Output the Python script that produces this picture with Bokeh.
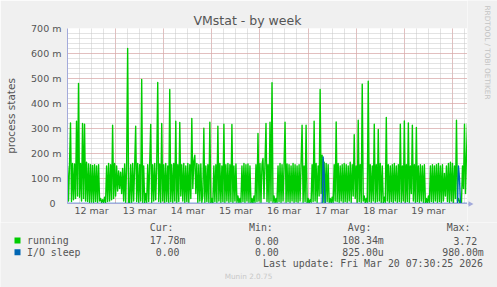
from bokeh.plotting import figure
from bokeh.layouts import column, row
from bokeh.models import FixedTicker, Range1d, ColumnDataSource
from bokeh.core.properties import value
from bokeh.embed import file_html
from bokeh.resources import INLINE
import math

# ---------------- data ----------------
day_labels = ["12 mar", "13 mar", "14 mar", "15 mar", "16 mar", "17 mar", "18 mar", "19 mar"]
y_tick_labels = ["0\u2007", "100 m", "200 m", "300 m", "400 m", "500 m", "600 m", "700 m"]

# running processes (milli), one sample per 30 min, starting 12 mar 00:00
running_m = [
    150, 10, 155, 322, 8, 160, 15, 158, 20, 329, 30, 480, 25, 160, 10, 320, 20, 317, 10, 165,
    8, 158, 5, 155, 6, 152, 5, 155, 8, 150, 5, 155, 10, 20, 5, 15, 3, 25, 5, 150,
    8, 160, 10, 155, 15, 313, 20, 160, 30, 150, 50, 130, 60, 125, 40, 140, 10, 158, 5, 160,
    620, 5, 3, 155, 5, 160, 10, 150, 309, 8, 160, 5, 155, 10, 496, 5, 150, 3, 40, 5,
    155, 8, 160, 316, 5, 155, 10, 160, 15, 150, 484, 8, 158, 5, 320, 10, 155, 5, 160, 8,
    150, 5, 456, 8, 155, 5, 160, 10, 329, 5, 155, 8, 324, 30, 155, 10, 160, 5, 150, 8,
    160, 5, 155, 20, 340, 60, 170, 193, 40, 160, 5, 155, 10, 158, 5, 30, 301, 5, 150, 8,
    155, 5, 325, 3, 20, 2, 150, 8, 155, 5, 309, 10, 160, 5, 150, 8, 317, 5, 155, 10,
    160, 5, 155, 8, 316, 5, 150, 10, 158, 5, 30, 3, 20, 5, 150, 8, 160, 5, 155, 10,
    158, 5, 150, 3, 20, 2, 30, 5, 155, 8, 280, 10, 160, 5, 155, 180, 20, 160, 320, 8,
    155, 5, 325, 10, 483, 5, 30, 3, 20, 5, 150, 8, 160, 5, 155, 10, 150, 325, 5, 158,
    8, 155, 5, 150, 10, 160, 5, 155, 8, 150, 5, 155, 10, 160, 313, 5, 150, 8, 313, 3,
    20, 2, 15, 5, 155, 8, 329, 10, 160, 5, 150, 30, 456, 40, 193, 5, 165, 3, 160, 8,
    155, 5, 20, 3, 25, 5, 155, 10, 326, 8, 160, 5, 150, 10, 155, 5, 160, 8, 155, 5,
    150, 10, 165, 5, 155, 30, 275, 20, 150, 5, 333, 8, 155, 5, 477, 10, 30, 3, 20, 5,
    489, 8, 155, 5, 150, 10, 317, 5, 155, 8, 296, 10, 160, 5, 150, 3, 25, 5, 344, 10,
    155, 5, 150, 8, 155, 5, 160, 10, 150, 5, 155, 8, 317, 5, 150, 10, 330, 5, 155, 8,
    322, 5, 150, 40, 313, 10, 155, 5, 304, 8, 150, 5, 155, 10, 150, 5, 155, 3, 20, 2,
    30, 5, 150, 8, 155, 5, 150, 10, 155, 5, 160, 8, 150, 5, 155, 10, 120, 30, 150, 8,
    160, 5, 165, 10, 160, 5, 150, 20, 333, 10, 20, 3, 15, 5, 150, 60, 317, 40, 200, 320,
]
# I/O sleep (milli): zero except these samples
io_spike_index = [255, 256, 390, 391]
io_spike_m = [186, 120, 150, 100]

series_names = ["running", "I/O sleep"]
series_colors = ["#00CC00", "#0066B3"]
stat_headers = ["Cur:", "Min:", "Avg:", "Max:"]
running_stats = ["17.78m", "0.00", "108.34m", "3.72"]
io_stats = ["0.00", "0.00", "825.00u", "980.00m"]
last_update = "Last update: Fri Mar 20 07:30:25 2026"

n = len(running_m)
hours = [i * 0.5 for i in range(n)]
io_sleep_m = [0.0] * n
for k, v in zip(io_spike_index, io_spike_m):
    io_sleep_m[k] = v

src = ColumnDataSource(dict(t=hours, run=running_m, io=io_sleep_m))

# ---------------- main chart ----------------
TXT = "#555555"
AXC = "#a3aadb"
BG = "#F0F0F0"
TOP_H = 222
MAIN_W = 467

p = figure(width=MAIN_W, height=TOP_H, output_backend="svg", toolbar_location=None,
           x_range=Range1d(0, hours[-1]), y_range=Range1d(0, 700),
           min_border_left=67, min_border_right=0, min_border_top=28, min_border_bottom=19,
           background_fill_color="white", border_fill_color=BG, outline_line_color=None)
p.frame_align = False

p.title.text = "VMstat - by week"
p.title.align = "left"
p.title.offset = 126
p.title.standoff = 2
p.title.text_font = "DejaVu Sans"
p.title.text_font_size = "12.5px"
p.title.text_font_style = "normal"
p.title.text_color = TXT

xa = p.xaxis[0]
xa.ticker = FixedTicker(ticks=[12 + 24 * k for k in range(len(day_labels))])
xa.major_label_overrides = {12 + 24 * k: lab for k, lab in enumerate(day_labels)}
ya = p.yaxis[0]
ya.ticker = FixedTicker(ticks=[100 * k for k in range(len(y_tick_labels))])
ya.major_label_overrides = {100 * k: lab for k, lab in enumerate(y_tick_labels)}
for ax in (xa, ya):
    ax.major_tick_line_color = None
    ax.minor_tick_line_color = None
    ax.major_tick_out = 0
    ax.major_tick_in = 0
    ax.minor_tick_out = 0
    ax.minor_tick_in = 0
    ax.axis_line_color = AXC
    ax.major_label_text_font = "DejaVu Sans"
    ax.major_label_text_font_size = "9.5px"
    ax.major_label_text_color = TXT
xa.major_label_standoff = 1
ya.major_label_standoff = 6
ya.axis_label = "process states"
ya.axis_label_text_font = "DejaVu Sans"
ya.axis_label_text_font_size = "10.5px"
ya.axis_label_text_font_style = "normal"
ya.axis_label_text_color = TXT
ya.axis_label_standoff = 11

xg = p.xgrid[0]
xg.ticker = FixedTicker(ticks=[24 * k for k in range(1, 9)], minor_ticks=[6 * k for k in range(0, 34)])
yg = p.ygrid[0]
yg.ticker = FixedTicker(ticks=[100 * k for k in range(8)], minor_ticks=[20 * k for k in range(36)])
for g in (xg, yg):
    g.grid_line_color = "#e09a9a"
    g.grid_line_dash = "1 1"
    g.minor_grid_line_color = "#c6c6c6"
    g.minor_grid_line_dash = "1 1"

p.line("t", "run", source=src, line_color=series_colors[0], line_width=1.4, line_join="round")
p.line("t", "io", source=src, line_color=series_colors[1], line_width=1.4, line_join="round")

# ---------------- watermark strip (right) ----------------
wm = figure(width=497 - MAIN_W, height=TOP_H, output_backend="svg", toolbar_location=None,
            x_range=Range1d(MAIN_W, 497), y_range=Range1d(TOP_H, 0),
            x_axis_location=None, y_axis_location=None, min_border=0,
            background_fill_color=BG, border_fill_color=BG, outline_line_color=None)
wm.frame_align = False
wm.grid.visible = False
# x-axis arrow head continuing the axis line
wm.patch(x=[467, 468, 468, 473, 468, 468, 467], y=[203, 203, 200.7, 203.5, 206.3, 204, 204],
         fill_color=AXC, line_color=None)
wm.text(x=[487.3], y=[5], text=["RRDTOOL / TOBI OETIKER"], angle=-math.pi / 2,
        text_align="left", text_baseline="middle", text_font=value("DejaVu Sans"),
        text_font_size="7.3px", text_color="#c4c4c4")

# ---------------- legend strip (bottom) ----------------
lg = figure(width=497, height=287 - TOP_H, output_backend="svg", toolbar_location=None,
            x_range=Range1d(0, 497), y_range=Range1d(287, TOP_H),
            x_axis_location=None, y_axis_location=None, min_border=0,
            background_fill_color=BG, border_fill_color=BG, outline_line_color=None)
lg.frame_align = False
lg.grid.visible = False

MONO = value("DejaVu Sans Mono")
row_y = [240, 251.7]
lg.text(x=[173, 272.3, 371, 470], y=[227.3] * 4, text=stat_headers, text_align="right",
        text_baseline="middle", text_font=MONO, text_font_size="9.9px", text_color=TXT)
lg.rect(x=[17, 17], y=row_y, width=6, height=6, fill_color=series_colors, line_color=None)
lg.text(x=[26.5, 26.5], y=row_y, text=series_names, text_align="left",
        text_baseline="middle", text_font=MONO, text_font_size="9.9px", text_color=TXT)
lg.text(x=[185, 278.3, 383.3, 476.7], y=[row_y[0]] * 4, text=running_stats, text_align="right",
        text_baseline="middle", text_font=MONO, text_font_size="9.9px", text_color=TXT)
lg.text(x=[179, 278.3, 383.3, 483.3], y=[row_y[1]] * 4, text=io_stats, text_align="right",
        text_baseline="middle", text_font=MONO, text_font_size="9.9px", text_color=TXT)
lg.text(x=[482.5], y=[263.3], text=[last_update], text_align="right",
        text_baseline="middle", text_font=MONO, text_font_size="9.9px", text_color=TXT)
lg.text(x=[248], y=[276], text=["Munin 2.0.75"], text_align="center",
        text_baseline="middle", text_font=value("DejaVu Sans"), text_font_size="7.3px",
        text_color="#c8c8c8")

layout = column(row(p, wm, spacing=0), lg, spacing=0)
open("out.html", "w").write(file_html(layout, INLINE))
